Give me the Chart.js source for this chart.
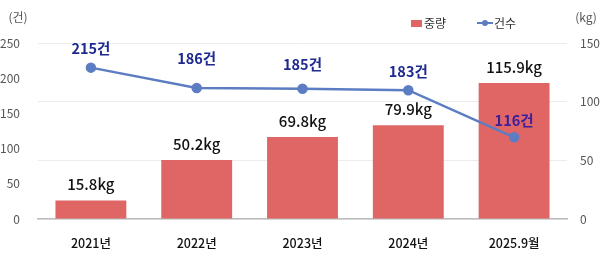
<!DOCTYPE html>
<html>
<head>
<meta charset="utf-8">
<script src="https://cdn.jsdelivr.net/npm/chart.js@4"></script>
<style>
  html, body { margin: 0; padding: 0; background: #fff; }
  #wrap { width: 606px; height: 261px; position: relative; }
</style>
</head>
<body>
<div id="wrap"><canvas id="myChart"></canvas></div>
<script>
var years = ['2021년', '2022년', '2023년', '2024년', '2025.9월'];
var weightKg = [15.8, 50.2, 69.8, 79.9, 115.9];
var cases = [215, 186, 185, 183, 116];
var leftTicks = [0, 50, 100, 150, 200, 250];
var rightTicks = [0, 50, 100, 150];

var FONT = '"Noto Sans CJK KR", "Noto Sans", sans-serif';
var barColor = 'rgb(224, 102, 102)';
var lineColor = 'rgb(92, 125, 194)';

// labels over bars and points, plus legend and axis units
var labelPlugin = {
    id: 'labelPlugin',
    afterDatasetsDraw: function(chart) {
        var ctx = chart.ctx;
        ctx.save();
        ctx.textAlign = 'center';
        ctx.textBaseline = 'middle';

        var bars = chart.getDatasetMeta(0).data;
        ctx.font = '500 15px ' + FONT;
        ctx.fillStyle = '#111';
        bars.forEach(function(bar, i) {
            ctx.fillText(weightKg[i] + 'kg', bar.x, bar.y - 16);
        });

        var lineOffsets = [19, 30, 24, 19, 17];
        var pts = chart.getDatasetMeta(1).data;
        ctx.font = 'bold 14.5px ' + FONT;
        pts.forEach(function(p, i) {
            ctx.fillStyle = i == 4 ? '#3a1f9e' : '#1f2a8e';
            ctx.fillText(cases[i] + '건', p.x, p.y - lineOffsets[i]);
        });

        // axis units
        ctx.font = '12px ' + FONT;
        ctx.fillStyle = '#555';
        ctx.fillText('(건)', 18, 17);
        ctx.fillText('(kg)', 586, 17);

        // legend
        ctx.fillStyle = barColor;
        ctx.fillRect(411, 20, 11, 7);
        ctx.fillStyle = '#333';
        ctx.textAlign = 'left';
        ctx.font = '12px ' + FONT;
        ctx.fillText('중량', 424, 23);

        ctx.strokeStyle = lineColor;
        ctx.lineWidth = 2;
        ctx.beginPath();
        ctx.moveTo(477, 23);
        ctx.lineTo(493, 23);
        ctx.stroke();
        ctx.fillStyle = lineColor;
        ctx.beginPath();
        ctx.arc(485, 23, 3, 0, Math.PI * 2);
        ctx.fill();
        ctx.fillStyle = '#333';
        ctx.fillText('건수', 494, 23);
        ctx.restore();
    }
};

var ctx = document.getElementById('myChart').getContext('2d');
var myChart = new Chart(ctx, {
    type: 'bar',
    data: {
        labels: years,
        datasets: [
            {
                label: '중량',
                data: weightKg,
                backgroundColor: barColor,
                yAxisID: 'y1',
                barPercentage: 0.67,
                categoryPercentage: 1,
                order: 2
            },
            {
                type: 'line',
                label: '건수',
                data: cases,
                borderColor: lineColor,
                backgroundColor: lineColor,
                borderWidth: 2.5,
                pointRadius: 4,
                pointHoverRadius: 4,
                yAxisID: 'y',
                fill: false,
                order: 1
            }
        ]
    },
    options: {
        responsive: true,
        maintainAspectRatio: false,
        animation: false,
        layout: { padding: { top: 43, left: 0, right: 0, bottom: 0 } },
        plugins: {
            legend: { display: false },
            tooltip: { enabled: false }
        },
        scales: {
            x: {
                grid: { display: false },
                border: { display: true, color: '#bdbdbd', width: 1.5 },
                ticks: {
                    color: '#111',
                    padding: 9,
                    font: { family: FONT, size: 12.5, weight: '500' }
                },
                afterFit: function(scale) { scale.height = 42; }
            },
            y: {
                position: 'left',
                min: 0,
                max: 250,
                afterBuildTicks: function(scale) {
                    scale.ticks = leftTicks.map(function(v) { return { value: v }; });
                },
                grid: { display: false },
                border: { display: false },
                ticks: {
                    color: '#555',
                    padding: 10,
                    font: { family: FONT, size: 12 }
                },
                afterFit: function(scale) { scale.width = 38; }
            },
            y1: {
                position: 'right',
                min: 0,
                max: 150,
                afterBuildTicks: function(scale) {
                    scale.ticks = rightTicks.map(function(v) { return { value: v }; });
                },
                grid: { color: '#ececec', drawTicks: false },
                border: { display: false },
                ticks: {
                    color: '#555',
                    padding: 13,
                    font: { family: FONT, size: 12 }
                },
                afterFit: function(scale) { scale.width = 39; }
            }
        }
    },
    plugins: [labelPlugin]
});
</script>
</body>
</html>
